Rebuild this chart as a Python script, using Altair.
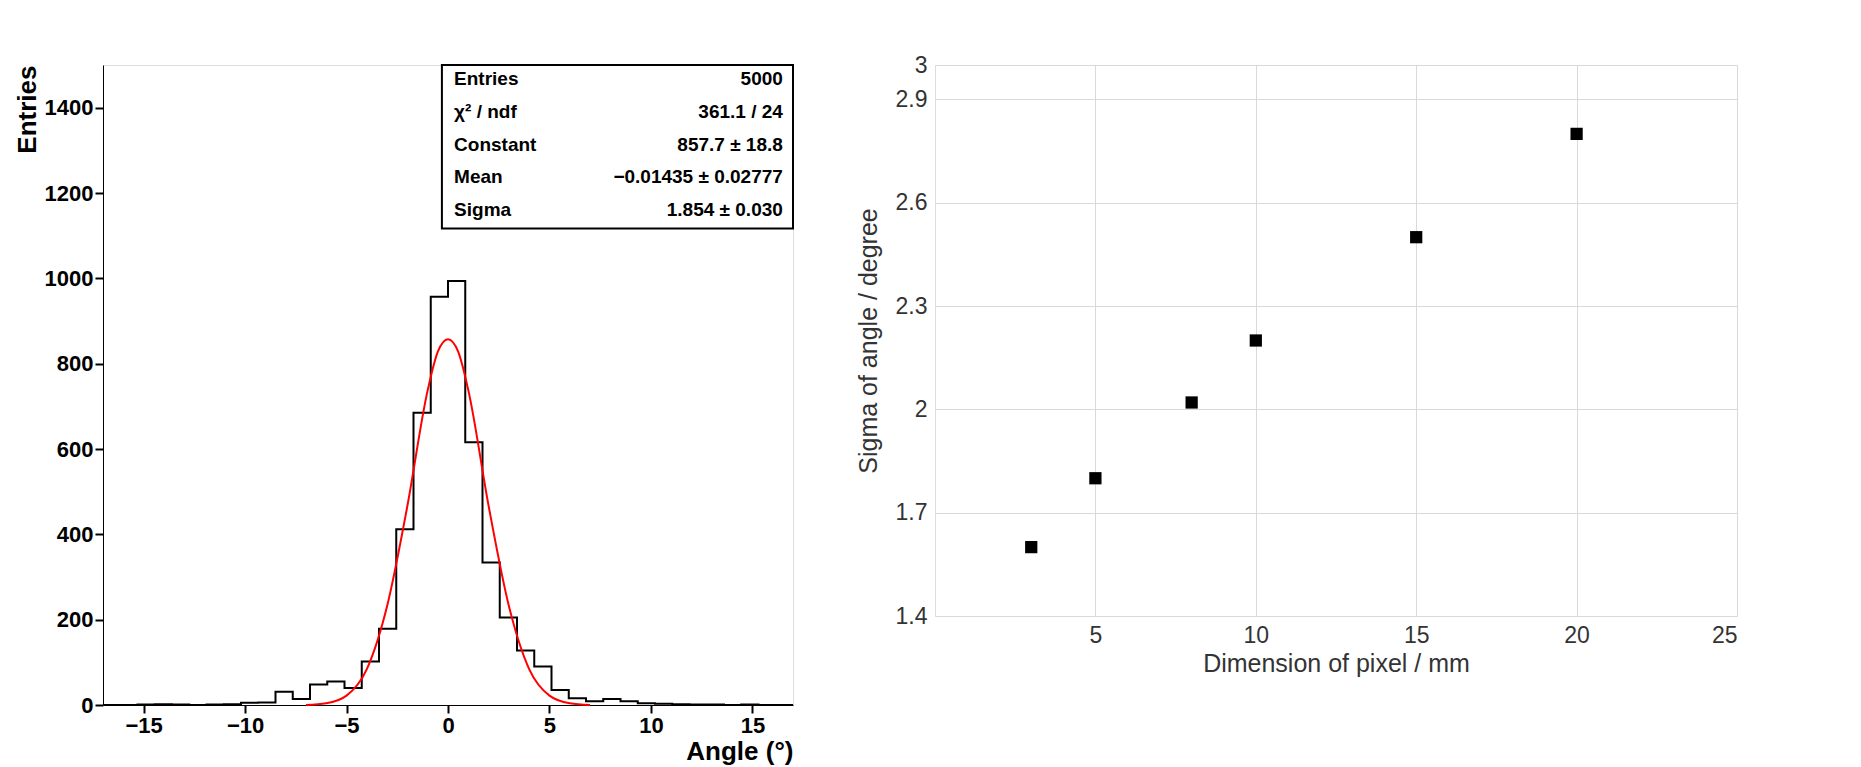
import altair as alt
import pandas as pd

# histogram: 40 bins from -17 to 17 (counts)
bin_lo = -17.0
bin_w = 0.85
counts = [0, 0, 1, 2, 1, 0, 1, 2, 5, 6,
          31, 14, 48, 55, 40, 102, 179, 412, 685, 957,
          994, 616, 334, 205, 128, 90, 35, 16, 9, 14,
          9, 4, 3, 2, 1, 1, 0, 1, 0, 0]

# red fit curve
fit_x = [-7, -6, -5, -4, -3, -2, -1, -0.5, 0, 0.5, 1, 2, 3, 4, 5, 6, 7]
fit_y = [0, 4, 22, 84, 232, 467, 738, 828, 857, 828, 738, 467, 232, 84, 22, 4, 0]

# stats box
stat_names = ["Entries", "χ² / ndf", "Constant", "Mean", "Sigma"]
stat_vals = ["5000", "361.1 / 24", "857.7 ± 18.8", "−0.01435 ± 0.02777", "1.854 ± 0.030"]
stat_y = [1467, 1391, 1312, 1237, 1160]

# right panel
pix = [3, 5, 8, 10, 15, 20]
sigma = [1.6, 1.8, 2.02, 2.2, 2.5, 2.8]

FONT = "Liberation Sans"

edges = [bin_lo + bin_w * i for i in range(len(counts) + 1)]
hist = pd.DataFrame({"x": edges, "y": counts + [counts[-1]]})
fit = pd.DataFrame({"x": fit_x, "y": fit_y})
stats = pd.DataFrame({"name": stat_names, "val": stat_vals, "y": stat_y})
box = pd.DataFrame({"x": [-0.3], "x2": [17], "y": [1117], "y2": [1500]})

xs = alt.Scale(domain=[-17, 17], nice=False)
ys = alt.Scale(domain=[0, 1500], nice=False)

h = alt.Chart(hist).mark_line(interpolate="step-after", color="black", strokeWidth=2, clip=True).encode(
    x=alt.X("x:Q", scale=xs, title="Angle (°)",
            axis=alt.Axis(values=[-15, -10, -5, 0, 5, 10, 15], titleAnchor="end", titleFontSize=26,
                          titleFontWeight="bold", labelFontSize=22, labelFontWeight="bold",
                          grid=False, domainColor="black", tickColor="black", tickWidth=2, tickSize=8,
                          labelColor="black", titleColor="black", labelFont=FONT, titleFont=FONT,
                          titlePadding=2)),
    y=alt.Y("y:Q", scale=ys, title="Entries",
            axis=alt.Axis(values=[0, 200, 400, 600, 800, 1000, 1200, 1400], format="d", titleAnchor="end",
                          titleFontSize=26, titleFontWeight="bold", labelFontSize=22, labelFontWeight="bold",
                          grid=False, domainColor="black", tickColor="black", tickWidth=2, tickSize=8,
                          labelColor="black", titleColor="black", labelFont=FONT, titleFont=FONT,
                          titlePadding=4)),
)
f = alt.Chart(fit).mark_line(color="red", strokeWidth=2, interpolate="monotone").encode(x="x:Q", y="y:Q")
b = alt.Chart(box).mark_rect(fill="white", stroke="black", strokeWidth=2).encode(
    x="x:Q", x2="x2", y="y:Q", y2="y2")
tn = alt.Chart(stats).mark_text(align="left", font=FONT, fontWeight="bold", fontSize=19, color="black").encode(
    x=alt.datum(0.3), y="y:Q", text="name:N")
tv = alt.Chart(stats).mark_text(align="right", font=FONT, fontWeight="bold", fontSize=19, color="black").encode(
    x=alt.datum(16.5), y="y:Q", text="val:N")

left = alt.layer(h, f, b, tn, tv).properties(width=690, height=640)

pts = pd.DataFrame({"pix": pix, "sigma": sigma})
right = alt.Chart(pts).mark_square(color="black", size=150, opacity=1).encode(
    x=alt.X("pix:Q", scale=alt.Scale(domain=[0, 25], nice=False), title="Dimension of pixel / mm",
            axis=alt.Axis(values=[5, 10, 15, 20, 25], gridColor="#d9d9d9", labelFontSize=23, titleFontSize=25,
                          labelColor="#333", titleColor="#333", domain=False, titleFontWeight="normal",
                          labelFont=FONT, titleFont=FONT, tickSize=0, labelPadding=8)),
    y=alt.Y("sigma:Q", scale=alt.Scale(domain=[1.4, 3.0], nice=False), title="Sigma of angle / degree",
            axis=alt.Axis(values=[1.4, 1.7, 2.0, 2.3, 2.6, 2.9, 3.0], labelExpr="format(datum.value, '~g')",
                          gridColor="#d9d9d9", labelFontSize=23, titleFontSize=25, titleFontWeight="normal",
                          labelColor="#333", titleColor="#333", domain=False, tickSize=0,
                          labelFont=FONT, titleFont=FONT, labelPadding=8, titlePadding=14)),
).properties(width=802, height=551,
             title=alt.TitleParams(".", color="white", fontSize=10, offset=30))

chart = alt.hconcat(left, right, spacing=60).configure_view(stroke="#555", strokeWidth=1.5).configure(
    background="white")
chart.save("out.html", embed_options={"renderer": "svg", "actions": False})
